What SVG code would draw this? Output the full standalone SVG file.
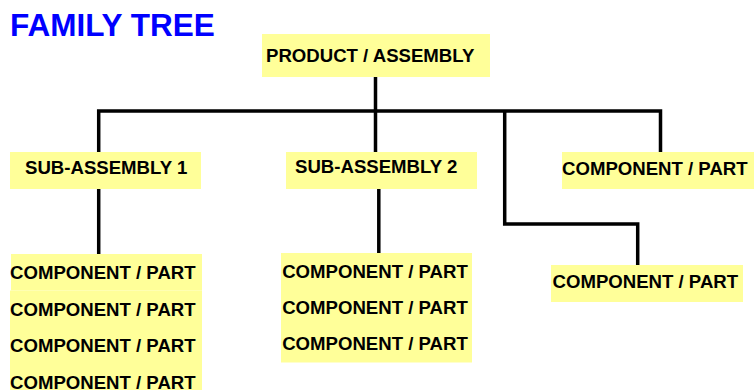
<svg xmlns="http://www.w3.org/2000/svg" width="754" height="390" viewBox="0 0 754 390">
  <style>
    .box { fill: #ffff99; stroke: none; }
    .lbl { font-family: "Liberation Sans", Arial, sans-serif; font-weight: bold; font-size: 18.6px; fill: #000000; }
    .title { font-family: "Liberation Sans", Arial, sans-serif; font-weight: bold; font-size: 31.5px; fill: #0000ff; }
    .conn { fill: none; stroke: #000000; stroke-width: 3.5; stroke-linejoin: miter; stroke-linecap: butt; }
  </style>
  <rect x="0" y="0" width="754" height="390" fill="#ffffff"/>
  <text class="title" x="10" y="36">FAMILY TREE</text>

  <g id="connectors">
    <path class="conn" d="M375.5,77 V152"/>
    <path class="conn" d="M98.7,152 V111 H660.5 V152"/>
    <path class="conn" d="M504.7,111 V224 H637.7 V265"/>
    <path class="conn" d="M98.7,189 V254"/>
    <path class="conn" d="M378.8,189 V253"/>
  </g>

  <g id="product">
    <rect class="box" x="262" y="34" width="228" height="43"/>
    <text class="lbl" x="266" y="62">PRODUCT / ASSEMBLY</text>
  </g>
  <g id="sub1">
    <rect class="box" x="10" y="152" width="191" height="37"/>
    <text class="lbl" x="25" y="174">SUB-ASSEMBLY 1</text>
  </g>
  <g id="sub2">
    <rect class="box" x="286" y="152" width="191" height="37"/>
    <text class="lbl" x="295" y="172.5">SUB-ASSEMBLY 2</text>
  </g>
  <g id="comp-right-upper">
    <rect class="box" x="562" y="152" width="192" height="37"/>
    <text class="lbl" x="562" y="175">COMPONENT / PART</text>
  </g>
  <g id="comp-right-lower">
    <rect class="box" x="551" y="265" width="192" height="37"/>
    <text class="lbl" x="552.5" y="288">COMPONENT / PART</text>
  </g>

  <g id="sub1-parts">
    <rect class="box" x="11" y="254" width="191" height="36.5"/>
    <rect class="box" x="10" y="290.5" width="192" height="36.5"/>
    <rect class="box" x="10" y="327" width="192" height="36"/>
    <rect class="box" x="10" y="363" width="192" height="27"/>
    <text class="lbl" x="10" y="279">COMPONENT / PART</text>
    <text class="lbl" x="10" y="315.5">COMPONENT / PART</text>
    <text class="lbl" x="10" y="352">COMPONENT / PART</text>
    <text class="lbl" x="10" y="388.5">COMPONENT / PART</text>
  </g>

  <g id="sub2-parts">
    <rect class="box" x="281" y="253" width="191" height="109.5"/>
    <text class="lbl" x="282.2" y="277.5">COMPONENT / PART</text>
    <text class="lbl" x="282.2" y="314">COMPONENT / PART</text>
    <text class="lbl" x="282.2" y="350">COMPONENT / PART</text>
  </g>
</svg>
